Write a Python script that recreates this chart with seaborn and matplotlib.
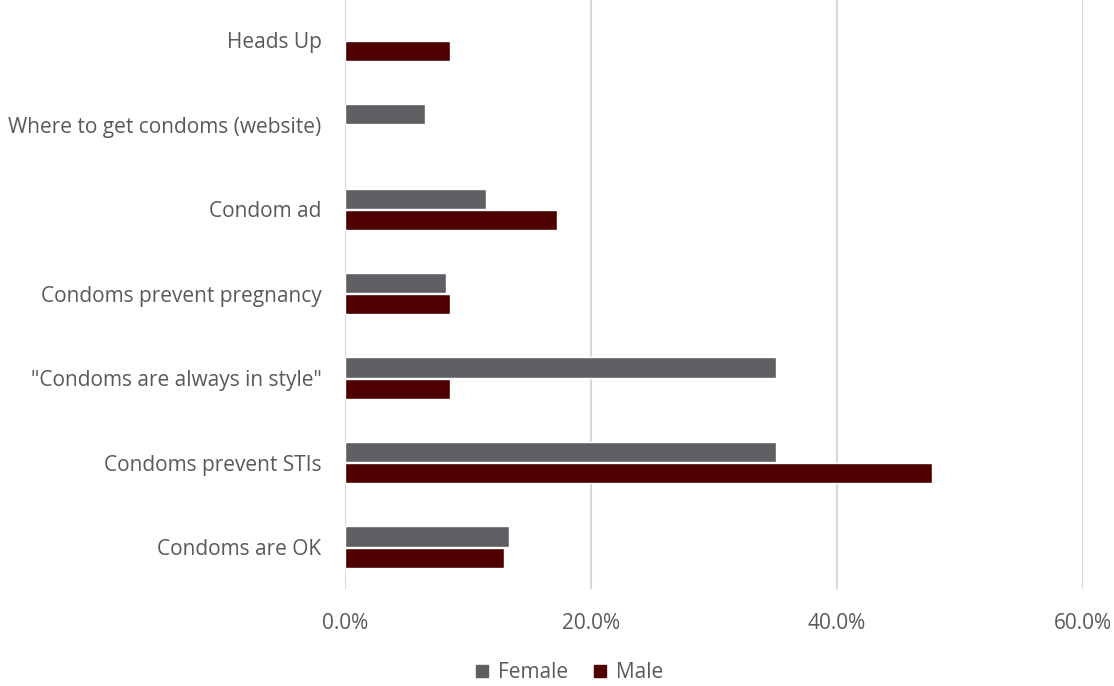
import numpy as np
import pandas as pd
import matplotlib
matplotlib.use('Agg')
import matplotlib.pyplot as plt
import seaborn as sns
from matplotlib.lines import Line2D
from matplotlib.ticker import FuncFormatter

categories = ['Heads Up', 'Where to get condoms (website)', 'Condom ad',
              'Condoms prevent pregnancy', '"Condoms are always in style"',
              'Condoms prevent STIs', 'Condoms are OK']
female = [np.nan, 6.5, 11.5, 8.2, 35.0, 35.0, 13.3]
male = [8.5, np.nan, 17.2, 8.5, 8.5, 47.7, 12.9]
series = ['Female', 'Male']
colors = {'Female': '#5F5E63', 'Male': '#4E0000'}
xticks = [0, 20, 40, 60]

rows = []
for cat, f, m in zip(categories, female, male):
    if not np.isnan(f):
        rows.append({'cat': cat, 'sex': 'Female', 'val': f})
    if not np.isnan(m):
        rows.append({'cat': cat, 'sex': 'Male', 'val': m})
df = pd.DataFrame(rows)

sns.set_style('white')
plt.rcParams['font.family'] = ['Open Sans', 'DejaVu Sans']

fig = plt.figure(figsize=(11.14, 6.86), dpi=100)
ax = fig.add_axes([0.3097, 0.141, 0.6625, 0.862])

sns.barplot(data=df, y='cat', x='val', hue='sex', order=categories,
            hue_order=series, palette=colors, orient='h', width=0.5,
            gap=0.05, dodge=True, ax=ax, legend=False, saturation=1)

ax.set_xlim(0, 60)
ax.set_ylim(6.5, -0.5)
ax.set_xticks(xticks)
ax.xaxis.set_major_formatter(FuncFormatter(lambda v, p: f'{v:.1f}%'))
ax.grid(axis='x', color='#D9D9D9', linewidth=1.5)
ax.set_axisbelow(True)
for s in ax.spines.values():
    s.set_visible(False)
ax.set_xlabel('')
ax.set_ylabel('')
ax.tick_params(axis='both', length=0, labelsize=15, labelcolor='#595959')
ax.tick_params(axis='x', pad=17)
ax.tick_params(axis='y', pad=17)

handles = [Line2D([], [], marker='s', linestyle='', markersize=8,
                  color=colors[s], label=s) for s in series]
fig.legend(handles=handles, loc='center', bbox_to_anchor=(0.511, 0.019),
           ncol=2, frameon=False, fontsize=15, handlelength=0.7,
           handletextpad=0.4, columnspacing=1.2, labelcolor='#595959')

fig.savefig('out.png', dpi=100)
